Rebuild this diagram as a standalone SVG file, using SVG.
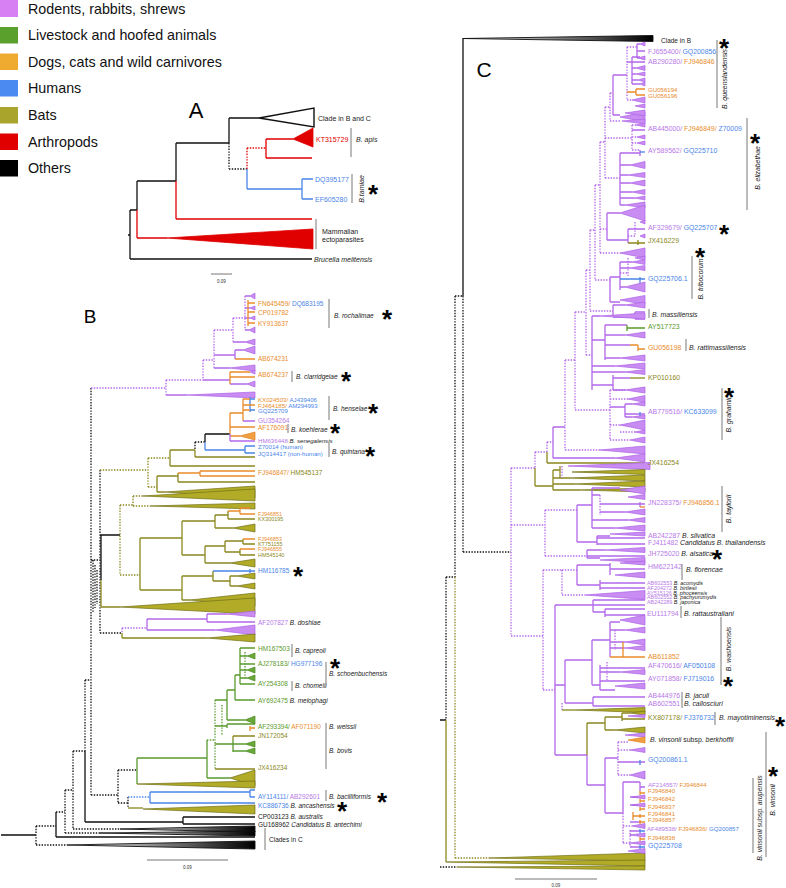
<svg xmlns="http://www.w3.org/2000/svg" width="786" height="888" viewBox="0 0 786 888">
<defs>
<linearGradient id="kg" x1="0" x2="1" y1="0" y2="0"><stop offset="0" stop-color="#fff"/><stop offset="1" stop-color="#000"/></linearGradient>
<style>
text{font-family:"Liberation Sans",Arial,sans-serif}
.lg{font-size:14.3px;fill:#111}
.ta{font-size:7px}
.tb{font-size:6.5px}
.tc{font-size:6.9px}
.tn{font-size:5.4px}
.tm{font-size:6.1px}
.i{font-style:italic}
.n{font-style:normal}
.big{text-anchor:middle;fill:#000}
.st{font-size:26px;font-weight:bold;text-anchor:middle;fill:#000}
.sc{font-size:4.5px;fill:#333;text-anchor:middle}
.cp{fill:#b779e8}.co{fill:#e98c2c}.cb{fill:#4a85e8}.cg{fill:#5a9a2e}.col{fill:#8a8822}.cr{fill:#e00000}.ck{fill:#222}
path{fill:none;stroke-width:1.3}
.p{stroke:#b368ea}.pd{stroke:#b368ea;stroke-dasharray:1.4 1.4}
.k{stroke:#111}.kd{stroke:#111;stroke-dasharray:1.4 1.4}
.ol{stroke:#8a881e}.old{stroke:#8a881e;stroke-dasharray:1.4 1.4}
.g{stroke:#5a9a2e}.gd{stroke:#5a9a2e;stroke-dasharray:1.4 1.4}
.o{stroke:#e98c2c}.b{stroke:#4a85e8}.bd{stroke:#4a85e8;stroke-dasharray:1.4 1.4}
.r{stroke:#e00000}.rd{stroke:#e00000;stroke-dasharray:1.4 1.4}
.bar{stroke:#555;stroke-width:0.8}
.sb{stroke:#777;stroke-width:1}
.wp{fill:#c98cf3;stroke:#ad62e6;stroke-width:0.7}
.wo{fill:#b2ab28;stroke:#707014;stroke-width:0.7}
.wg{fill:#6aa83a;stroke:#4c8a22;stroke-width:0.7}
.wor{fill:#f0a040;stroke:#e08020;stroke-width:0.7}
.wk{fill:url(#kg);stroke:#111;stroke-width:0.9}
.wr{fill:#e00000;stroke:#e00000;stroke-width:0.8}
</style>
</defs>
<rect width="786" height="888" fill="#fff"/>

<g id="legend">
<rect x="0" y="0" width="18" height="17" fill="#d780f4"/>
<text class="lg" x="28" y="13.5">Rodents, rabbits, shrews</text>
<rect x="0" y="27" width="18" height="16.5" fill="#5aa02c"/>
<text class="lg" x="28" y="40">Livestock and hoofed animals</text>
<rect x="0" y="53.5" width="18" height="16.5" fill="#efaa30"/>
<text class="lg" x="28" y="66.5">Dogs, cats and wild carnivores</text>
<rect x="0" y="80" width="18" height="16.5" fill="#4b8af0"/>
<text class="lg" x="28" y="93">Humans</text>
<rect x="0" y="107" width="18" height="16.5" fill="#a8a42c"/>
<text class="lg" x="28" y="120">Bats</text>
<rect x="0" y="133.5" width="18" height="16.5" fill="#e00000"/>
<text class="lg" x="28" y="146.5">Arthropods</text>
<rect x="0" y="160" width="18" height="16.5" fill="#000"/>
<text class="lg" x="28" y="173">Others</text>
</g>

<!-- ================= PANEL A ================= -->
<g id="panelA">
<text class="big" x="196" y="118" font-size="22">A</text>
<g id="A-edges">
<path class="k" d="M130,210V259M128,235H130M130,210H137M137,181V210M137,181H176M130,259H312M176,143V181M176,143H229M229,118V143M229,118H259"/>
<path class="r" d="M137,210V238M137,238H167M176,181V219M176,219H312M266,139V158M266,139H293M266,158H312"/>
<path class="kd" d="M229,143V169M229,169H247"/>
<path class="rd" d="M247,148V169M247,148H266"/>
<path class="b" d="M247,169V189M247,189H302M302,179V199M302,179H313M302,199H313"/>
<polygon points="259,118 314,108 314,127" fill="#fff" stroke="#111" stroke-width="1.4"/>
<polygon class="wr" points="293,139 313,128 313,147"/>
<polygon class="wr" points="167,238 313,229 313,249"/>
</g>
<g id="A-clade-BC"><text class="ta ck" x="318" y="120.5">Clade in B and C</text></g>
<g id="A-apis"><text class="ta cr" x="316" y="142">KT315729</text><path class="bar" d="M351,128V157"/><text class="ta ck i" x="356" y="142">B. apis</text></g>
<g id="A-tamiae"><text class="ta cb" x="315" y="181.5">DQ395177</text><text class="ta cb" x="315" y="201.5">EF605280</text><path class="bar" d="M352,174V203"/><text class="ta ck i" transform="translate(364,189) rotate(-90)" text-anchor="middle">B.tamiae</text><text class="st" x="373" y="203">*</text></g>
<g id="A-ecto"><path class="bar" d="M316,219V249"/><text class="ta ck" x="322" y="233.5">Mammalian</text><text class="ta ck" x="322" y="242">ectoparasites</text></g>
<g id="A-brucella"><text class="ta ck i" x="314" y="262">Brucella melitensis</text></g>
<g id="A-scale"><path class="sb" d="M211,274H232"/><text class="sc" x="221.5" y="283">0.09</text></g>
</g>

<!-- ================= PANEL B ================= -->
<g id="panelB">
<text class="big" x="90" y="323" font-size="19">B</text>
<g id="B-edges">
<path class="k" d="M1,835H36M56,812V837M56,837H255M85,751V822M85,822H183M183,817V824M183,817H255M183,824H255M100,535H120M101,535V580M205,434V442M205,434H230"/>
<path class="kd" d="M36,826V845M36,845H67M36,826H56M56,812H65M65,790V833M65,833H100M65,790H73M73,751V829M73,829H120M73,751H85M85,680V751M85,680H91M91,388V795M91,560H100M91,795H118M100,470V633M100,633H122M118,770V803M118,803H128M128,797V808M93,560V612M95,565V608M97,570V604M195,442H205M195,442V450"/>
<polygon class="wk" points="120,829 255,826 255,832"/>
<polygon class="wk" points="100,833 255,831 255,836"/>
<polygon class="wk" points="67,845 255,841 255,849"/>
<path class="pd" d="M91,388H166M166,380V395M166,380H203M203,360V380M203,360H214M214,330V368M214,330H233M233,318V342M233,318H245M245,296V330"/>
<path class="p" d="M166,395H187M203,380H230M214,368H230M214,355H235M235,350V359M235,350H243M233,342H245M245,296H250M245,308H250M245,318H250M245,330H249M230,384H247"/>
<path class="o" d="M230,372V384M230,377H255M230,372H250M235,359H255M248,303H255M248,312H255M248,323H255M248,300V326"/>
<polygon class="wp" points="187,395 255,392 255,398"/>
<polygon class="wp" points="230,368 255,365 255,371"/>
<polygon class="wp" points="243,350 255,346 255,354"/>
<polygon class="wp" points="245,342 255,339 255,345"/>
<polygon class="wp" points="250,296 255,293 255,299"/>
<polygon class="wp" points="250,308 255,306 255,310"/>
<polygon class="wp" points="250,318 255,316 255,320"/>
<polygon class="wp" points="249,330 255,327 255,333"/>
<polygon class="wp" points="247,384 255,381 255,387"/>
<polygon class="wp" points="250,372 255,370 255,374"/>
<path class="b" d="M205,442V450M205,450H245M245,446V453M245,446H255M245,453H255M250,399H255M250,410H255M250,397V412"/>
<path class="o" d="M230,413V434M230,413H243M243,399V421M243,399H250M243,405H255M243,410H250M230,427H255M230,436H240"/>
<path class="p" d="M243,421H255M230,434V441M230,441H255"/>
<polygon class="wor" points="240,436 255,432 255,440"/>
<path class="ol" d="M170,450V466M170,450H195M195,450V457M195,457H255M170,466H255M157,476V492M157,476H178M178,473V482M178,482H255M157,492H165"/>
<path class="old" d="M100,470H148M148,458V487M148,458H170M148,487H157"/>
<path class="o" d="M178,473H200M200,471V476M200,471H255M200,476H255"/>
<polygon class="wo" points="165,492 255,486 255,498"/>
<path class="old" d="M120,505V575M120,505H133M133,496V506M133,496H143M133,506H150M120,575H140"/>
<polygon class="wo" points="143,496 255,489 255,501"/>
<polygon class="wo" points="150,506 255,503 255,509"/>
<path class="ol" d="M140,538V590M140,538H182M182,521V555M182,521H215M215,515V528M215,515H228M228,511V519M228,519H255M215,528H233M182,555H205M205,546V563M205,546H225M225,541V552M225,541H243M243,539V544M243,544H255M225,552H240M240,549V555M240,555H255M205,563H230M140,590H182M182,576V600M182,576H213M213,571V581M213,581H230M230,576V586M230,576H237M230,586H237M182,600H190M101,580V607M101,607H120"/>
<path class="o" d="M228,511H240M240,508V514M240,514H255M240,508H250M243,539H255M240,549H255"/>
<path class="b" d="M213,571H250M250,569V573M250,571H255"/>
<polygon class="wo" points="233,528 255,524 255,532"/>
<polygon class="wo" points="230,563 255,559 255,567"/>
<polygon class="wo" points="237,576 255,573 255,579"/>
<polygon class="wo" points="237,586 255,583 255,589"/>
<polygon class="wo" points="190,600 255,593 255,606"/>
<polygon class="wo" points="120,607 255,598 255,614"/>
<path class="pd" d="M122,628V633M122,628H147"/>
<path class="ol" d="M122,633V638M122,638H207"/>
<path class="p" d="M147,619V630M147,619H207M207,614V622M207,614H227M207,622H255M147,630H215"/>
<polygon class="wp" points="227,614 255,611 255,617"/>
<polygon class="wp" points="215,630 255,625 255,635"/>
<polygon class="wo" points="207,638 255,634 255,642"/>
<path class="kd" d="M118,770H137"/>
<path class="g" d="M137,758V784M137,758H207M207,740V778M207,778H230M215,700H227M227,690V720M227,720H245M227,690H235M235,675V700M235,700H255M235,675H240M240,648V684M240,648H255M240,656H247M240,664H255M240,670H247M240,678H247M240,684H255M215,726H227M227,724V728M227,724H255M215,744H233M233,740V752M233,744H245M233,751H245"/>
<path class="gd" d="M207,740H215M215,700V769M245,652V680M222,705V735"/>
<path class="o" d="M250,726V731M250,728H255"/>
<path class="ol" d="M215,769H255M233,736H255M233,736V740"/>
<polygon class="wg" points="247,656 255,653 255,659"/>
<polygon class="wg" points="247,670 255,667 255,673"/>
<polygon class="wg" points="247,678 255,675 255,681"/>
<polygon class="wg" points="245,720 255,716 255,724"/>
<polygon class="wg" points="245,744 255,741 255,747"/>
<polygon class="wg" points="245,751 255,748 255,754"/>
<polygon class="wo" points="230,778 255,770 255,786"/>
<polygon class="wo" points="137,784 255,781 255,788"/>
<path class="bd" d="M128,797H150"/>
<path class="b" d="M150,792V803M150,792H250M250,790V797M250,790H255M250,797H255M150,803H255"/>
<path class="ol" d="M128,808H143"/>
<polygon class="wo" points="143,809 255,805 255,814"/>
</g>
<g id="B-rochalimae"><text class="tb" x="258" y="306"><tspan class="co">FN645459/ </tspan><tspan class="cb">DQ683195</tspan></text><text class="tb co" x="258" y="314.5">CP019782</text><text class="tb co" x="258" y="325.5">KY913637</text><path class="bar" d="M329,299V328"/><text class="tb ck i" x="334" y="318">B. rochalimae</text><text class="st" x="387" y="327.5">*</text></g>
<g id="B-AB674231"><text class="tb co" x="258" y="361">AB674231</text></g>
<g id="B-clarridgeiae"><text class="tb co" x="258" y="377">AB674237</text><path class="bar" d="M292,371V382"/><text class="tb ck i" x="296" y="379">B. clarridgeiae</text><text class="st" x="346" y="389.5">*</text></g>
<g id="B-henselae"><text class="tm" x="258" y="401.5"><tspan class="co">KX024503/ </tspan><tspan class="cb">AJ439406</tspan></text><text class="tm" x="258" y="407.5"><tspan class="co">FJ464185/ </tspan><tspan class="cb">AM294993</tspan></text><text class="tm cb" x="258" y="413">GQ225709</text><text class="tb cp" x="258" y="423">GU354264</text><path class="bar" d="M329,396V420"/><text class="tb ck i" x="333" y="411">B. henselae</text><text class="st" x="373" y="421.5">*</text></g>
<g id="B-koehlerae"><text class="tb co" x="258" y="429.5">AF176091</text><path class="bar" d="M288,424V433"/><text class="tb ck i" x="291" y="431.5">B. koehlerae</text><text class="st" x="335" y="441.5">*</text></g>
<g id="B-senegalensis"><text class="tm" x="258" y="442.5"><tspan class="cp">HM636448 </tspan><tspan class="ck i">B. senegalensis</tspan></text></g>
<g id="B-quintana"><text class="tm cb" x="258" y="448.5">Z70014 (human)</text><text class="tm cb" x="258" y="455.5">JQ314417 (non-human)</text><path class="bar" d="M329,443V457"/><text class="tb ck i" x="332" y="453.5">B. quintana</text><text class="st" x="370" y="464.5">*</text></g>
<g id="B-FJ946847"><text class="tb" x="258" y="475"><tspan class="co">FJ946847/ </tspan><tspan class="col">HM545137</tspan></text></g>
<g id="B-bats1"><text class="tn co" x="258" y="515.5">FJ946851</text><text class="tn col" x="258" y="520.5">KX300195</text><text class="tn co" x="258" y="541">FJ946853</text><text class="tn col" x="258" y="546">KT751155</text><text class="tn co" x="258" y="551">FJ946855</text><text class="tn col" x="258" y="556.5">HM545140</text></g>
<g id="B-HM116785"><text class="tb cb" x="258" y="573">HM116785</text><text class="st" x="298" y="584.5">*</text></g>
<g id="B-doshiae"><text class="tb" x="258" y="624.5"><tspan class="cp">AF207827 </tspan><tspan class="ck i">B. doshiae</tspan></text></g>
<g id="B-capreoli"><text class="tb cg" x="258" y="650.5">HM167503</text><path class="bar" d="M292,644V657"/><text class="tb ck i" x="295" y="652.5">B. capreoli</text></g>
<g id="B-schoenbuchensis"><text class="tb" x="258" y="666"><tspan class="cg">AJ278183/ </tspan><tspan class="cb">HG977196</tspan></text><path class="bar" d="M326,662V683"/><text class="tb ck i" x="329" y="676">B. schoenbuchensis</text><text class="st" x="335" y="676.5">*</text></g>
<g id="B-chomelii"><text class="tb cg" x="258" y="686">AY254308</text><path class="bar" d="M292,681V691"/><text class="tb ck i" x="295" y="688">B. chomelii</text></g>
<g id="B-melophagi"><text class="tb" x="258" y="703"><tspan class="cg">AY692475 </tspan><tspan class="ck i">B. melophagi</tspan></text></g>
<g id="B-weissii-bovis"><text class="tb" x="258" y="728.5"><tspan class="cg">AF293394/ </tspan><tspan class="co">AF071190</tspan></text><text class="tb col" x="258" y="738">JN172054</text><text class="tb col" x="258" y="769.5">JX416234</text><path class="bar" d="M326,723V769"/><text class="tb ck i" x="329" y="728.5">B. weissii</text><text class="tb ck i" x="329" y="753">B. bovis</text></g>
<g id="B-bacilliformis"><text class="tb" x="258" y="798.5"><tspan class="cb">AY114111/ </tspan><tspan class="cp">AB292601</tspan></text><path class="bar" d="M326,790V801"/><text class="tb ck i" x="329" y="798.5">B. bacilliformis</text><text class="st" x="382" y="810.5">*</text></g>
<g id="B-ancashensis"><text class="tb" x="258" y="807.5"><tspan class="cb">KC886736 </tspan><tspan class="ck i">B. ancashensis</tspan></text><text class="st" x="342" y="819.5">*</text></g>
<g id="B-australis"><text class="tb ck" x="258" y="819">CP003123 <tspan class="i">B. australis</tspan></text></g>
<g id="B-antechimi"><text class="tb ck" x="258" y="826.5">GU168962 <tspan class="i">Candidatus B. antechimi</tspan></text></g>
<g id="B-cladesC"><path class="bar" d="M265,828V850"/><text class="tb ck" x="269" y="841.5">Clades in C</text></g>
<g id="B-scale"><path class="sb" d="M147,860H228"/><text class="sc" x="187.5" y="868.5">0.09</text></g>
</g>

<!-- ================= PANEL C ================= -->
<g id="panelC">
<text class="big" x="484" y="77" font-size="21">C</text>
<g id="C-edges">
<polygon class="wk" points="463,38.5 653,35.5 653,41.5"/>
<path class="k" d="M463,38V296M440,720H446"/>
<path class="kd" d="M463,296V552M463,552H511M455,296H463M455,296V577M446,577H455M446,577V720M440,867H457"/>
<path class="old" d="M455,577V858M455,858H490"/>
<path class="ol" d="M446,720V862"/>
<polygon class="wo" points="490,858 645,853 645,861"/>
<polygon class="wo" points="446,862 645,860 645,866"/>
<polygon class="wo" points="457,867 645,866 645,870"/>
<path class="pd" d="M511,468V636M511,468H535M535,452V468M535,452H547M547,442V452M547,442H553M511,636H543M543,570V690M543,570H562M562,570V595M562,595H585M543,690H555"/>
<path class="ol" d="M535,468V486M535,486H553M547,452V463M547,463H645M553,470V490M553,470H560M560,466V478M553,478H570M553,484H575M553,490H580"/>
<path class="pd" d="M610,93V121M605,107V178M605,107H610M600,142V253M600,142H605M595,185V280M595,185H600M590,230V311M590,230H595M586,270V355M586,270H590M575,312V410M575,312H586M565,360V450M565,360H575M565,450H600M575,410H610M600,253H620M610,93H613M610,121H620M605,178H620M600,229H607M595,280H610M590,311H613M586,355H592M562,466V478"/>
<path class="p" d="M553,427V458M553,427H565M553,458H615"/>
<polygon class="wp" points="600,450 645,446 645,454"/>
<polygon class="wp" points="615,458 645,454 645,462"/>
<polygon class="wp" points="620,253 645,248 645,258"/>
<path class="p" d="M613,75V115M613,75H627M627,62H632M632,57V84M632,57H640M632,62H645M632,68H636M632,74H636M632,80H638M632,84H640M613,115H620M637,44V58M637,51H645M637,44H640M637,58H638"/>
<path class="pd" d="M627,47V100M627,47H637M627,100H632"/>
<path class="o" d="M627,92H636M636,89V95M636,89H645M636,95H645"/>
<polygon class="wp" points="640,44 645,42 645,46"/>
<polygon class="wp" points="638,58 645,56 645,60"/>
<polygon class="wp" points="636,68 645,65.5 645,70.5"/>
<polygon class="wp" points="636,74 645,72 645,76"/>
<polygon class="wp" points="638,80 645,78 645,82"/>
<polygon class="wp" points="640,84 645,82 645,86"/>
<polygon class="wp" points="632,100 645,97 645,103"/>
<polygon class="wp" points="635,106 645,104 645,108"/>
<polygon class="wp" points="620,117 645,112 645,122"/>
<polygon class="wp" points="625,113 645,110 645,116"/>
<polygon class="wp" points="622,121 645,119 645,124"/>
<path class="p" d="M620,153V205M620,153H640M640,150V156M620,165H630M620,175H628M620,183H630M620,192H632M620,198H635M620,205H625M632,130H645"/>
<path class="b" d="M640,152H645"/>
<path class="pd" d="M605,138H632M632,125V150M632,125H636M632,137H637M632,143H637M632,150H640"/>
<polygon class="wp" points="636,125 645,123 645,127"/>
<polygon class="wp" points="637,137 645,135 645,139"/>
<polygon class="wp" points="637,143 645,141 645,145"/>
<polygon class="wp" points="630,165 645,161.5 645,168.5"/>
<polygon class="wp" points="628,175 645,172.5 645,177.5"/>
<polygon class="wp" points="630,183 645,180 645,186"/>
<polygon class="wp" points="632,192 645,189.5 645,194.5"/>
<polygon class="wp" points="635,198 645,196 645,200"/>
<polygon class="wp" points="625,205 645,202 645,208"/>
<path class="p" d="M607,213V240M607,213H620M607,240H628M628,229V243M628,229H645"/>
<path class="pd" d="M635,222V236M628,236H635"/>
<path class="ol" d="M638,240V245M638,243H645M628,243H638"/>
<polygon class="wp" points="620,213 645,205 645,221"/>
<polygon class="wp" points="640,222 645,220 645,224"/>
<polygon class="wp" points="640,236 645,234 645,238"/>
<path class="p" d="M610,277V302M610,277H620M620,262V290M620,262H632M620,268H630M620,287H625M610,302H620"/>
<path class="pd" d="M620,273H628M628,258V276"/>
<path class="b" d="M620,279H640M640,277V283M640,279H645"/>
<polygon class="wp" points="632,262 645,259.5 645,264.5"/>
<polygon class="wp" points="630,268 645,265.5 645,270.5"/>
<polygon class="wp" points="625,287 645,282 645,292"/>
<polygon class="wp" points="620,300 645,295.5 645,304.5"/>
<polygon class="wp" points="635,258 645,256 645,260"/>
<path class="p" d="M613,305V317M613,305H625M613,317H635M635,312V319M635,312H645M635,319H645"/>
<polygon class="wp" points="625,305 645,302 645,308"/>
<path class="p" d="M592,316V390M592,316H600M592,340H605M605,325V360M605,325H627M605,335H625M605,345H630M605,358H620M592,366H615M592,372H625M592,385H613M613,375V390M613,378H630M613,390H625"/>
<path class="g" d="M627,325V331M627,328H645"/>
<path class="o" d="M630,345H638M638,345V351M638,349H645"/>
<path class="ol" d="M630,378H645"/>
<polygon class="wp" points="600,316 645,313 645,319"/>
<polygon class="wp" points="625,335 645,332 645,338"/>
<polygon class="wp" points="620,358 645,355 645,361"/>
<polygon class="wp" points="615,366 645,363 645,369"/>
<polygon class="wp" points="625,372 645,369.5 645,374.5"/>
<polygon class="wp" points="625,390 645,387 645,393"/>
<path class="pd" d="M610,390V440M610,390H625M610,399H628M610,425H620M610,440H630M620,432H635"/>
<path class="p" d="M610,407H625M625,404V417M625,414H645M625,404H632M625,417H632"/>
<path class="b" d="M640,412V416"/>
<polygon class="wp" points="628,399 645,395.5 645,402.5"/>
<polygon class="wp" points="632,404 645,402 645,406"/>
<polygon class="wp" points="632,417 645,415 645,419"/>
<polygon class="wp" points="620,425 645,420 645,430"/>
<polygon class="wp" points="635,432 645,430 645,434"/>
<polygon class="wp" points="630,440 645,437 645,443"/>
<polygon class="wp" points="568,466 650,462.5 650,469.5"/>
<polygon class="wo" points="572,472 645,469.5 645,474.5"/>
<polygon class="wo" points="570,478 645,475 645,481"/>
<polygon class="wo" points="575,484 645,481 645,487"/>
<polygon class="wo" points="580,490 645,488 645,492"/>
<path class="pd" d="M511,525H545M545,510V556M545,510H577M545,556H587M600,495V515"/>
<path class="p" d="M577,505V542M577,505H592M592,488V528M592,488H620M592,495H600M592,520H628M592,528H615M577,542H597M597,536V545M597,536H610M597,538H645M597,544H645M600,504H640M640,502V507M640,504H645M600,512H625M587,550V558M587,550H605M587,556H645M587,558H600"/>
<path class="o" d="M640,507H645"/>
<polygon class="wp" points="620,490 645,486 645,494"/>
<polygon class="wp" points="628,497 645,494.5 645,499.5"/>
<polygon class="wp" points="625,512 645,509 645,515"/>
<polygon class="wp" points="628,520 645,517.5 645,522.5"/>
<polygon class="wp" points="615,528 645,525 645,531"/>
<polygon class="wp" points="610,534 645,532 645,536"/>
<polygon class="wp" points="605,550 645,547.5 645,552.5"/>
<polygon class="wp" points="600,560 645,557.5 645,562.5"/>
<path class="pd" d="M562,570H577"/>
<path class="p" d="M577,565V585M577,565H610M610,563V575M610,569H645M577,585H600M600,580V590M600,583H645M600,588H645M555,605V755M555,605H593M593,600V612M593,600H645M593,605H645M593,612H605M605,609V617M605,609H645M605,615H645"/>
<polygon class="wp" points="620,563 645,561 645,565"/>
<polygon class="wp" points="615,575 645,572 645,578"/>
<polygon class="wp" points="585,595 645,590.5 645,599.5"/>
<path class="p" d="M555,685H565M565,660V703M565,660H592M592,640V685M592,640H610M610,622V657M610,622H620M610,630H625M610,642H625M610,648H625M592,685H600M600,665V690M600,668H645M600,672H620M600,681H645M600,690H615M565,703H593M593,697V706M593,697H645M593,706H645"/>
<path class="pd" d="M615,630V650M607,662V680M562,703V710"/>
<path class="o" d="M610,657H645M623,642V657"/>
<path class="ol" d="M562,710H575"/>
<polygon class="wp" points="620,620 645,615 645,625"/>
<polygon class="wp" points="625,630 645,627 645,633"/>
<polygon class="wp" points="625,642 645,639 645,645"/>
<polygon class="wp" points="625,648 645,645.5 645,650.5"/>
<polygon class="wp" points="620,672 645,669.5 645,674.5"/>
<polygon class="wp" points="615,686 645,683 645,689"/>
<polygon class="wo" points="575,710 645,707.5 645,712.5"/>
<path class="p" d="M555,755H587M587,755V785M587,785H605M605,758V813M605,758H618M618,762H645M605,813H623M623,782V813M623,782H640M640,782V791M640,787H645M630,797H640M630,805H640M630,822H640M630,831H640M630,847H640"/>
<path class="ol" d="M587,723V755M587,723H605M605,717V730M605,717H622M622,713V721M622,713H630M622,719H645M605,730H615"/>
<path class="pd" d="M618,742V775M618,742H628M618,750H630M618,775H630M623,813V843M623,826H632M623,843H630M630,830V847M630,835H632"/>
<path class="b" d="M640,760V765M640,845V849M640,847H645M640,829V833M640,831H645"/>
<path class="o" d="M640,791V795M640,793H645M640,799V803M640,801H645M640,807V811M640,809H645M640,814V818M640,816H645M640,820V824M640,822H645M640,837V841M640,839H645M633,812V820M633,816H640"/>
<polygon class="wo" points="630,713 645,711 645,715"/>
<polygon class="wo" points="615,730 645,727 645,733"/>
<polygon class="wp" points="628,716 645,714.5 645,717.5"/>
<polygon class="wp" points="625,735 645,733 645,737"/>
<polygon class="wor" points="628,740 645,737 645,743"/>
<polygon class="wp" points="630,750 645,747.5 645,752.5"/>
<polygon class="wp" points="630,775 645,771 645,779"/>
<polygon class="wp" points="632,797 645,795 645,799"/>
<polygon class="wp" points="632,805 645,803 645,807"/>
<polygon class="wp" points="632,826 645,823.5 645,828.5"/>
<polygon class="wp" points="630,835 645,833 645,837"/>
<polygon class="wp" points="630,843 645,841 645,845"/>
<polygon class="wp" points="628,851 645,848.5 645,853.5"/>
</g>
<g id="C-cladeB"><text class="tb ck" x="661" y="42.5">Clade in B</text></g>
<g id="C-queenslandensis"><text class="tc" x="648" y="54"><tspan class="cp">FJ655400/ </tspan><tspan class="cb">GQ200856</tspan></text><text class="tc" x="648" y="64"><tspan class="cp">AB290280/ </tspan><tspan class="co">FJ946846</tspan></text><text class="tm co" x="648" y="91.5">GU056194</text><text class="tm co" x="648" y="97.5">GU056196</text><path class="bar" d="M717,40V108"/><text class="tc ck i" transform="translate(727,79) rotate(-90)" text-anchor="middle">B. queenslandensis</text><text class="st" x="724" y="56.5">*</text></g>
<g id="C-elizabethae"><text class="tc" x="648" y="130.5"><tspan class="cp">AB445000/ </tspan><tspan class="co">FJ946849/ </tspan><tspan class="cb">Z70009</tspan></text><text class="tc" x="648" y="152.5"><tspan class="cp">AY589562/ </tspan><tspan class="cb">GQ225710</tspan></text><path class="bar" d="M747,118V210"/><text class="tc ck i" transform="translate(760,168) rotate(-90)" text-anchor="middle">B. elizabethae</text><text class="st" x="755" y="151.5">*</text></g>
<g id="C-AF329679"><text class="tc" x="648" y="229.5"><tspan class="cp">AF329679/ </tspan><tspan class="cb">GQ225707</tspan></text><text class="st" x="724" y="242.5">*</text><text class="tc col" x="648" y="243">JX416229</text></g>
<g id="C-tribocorum"><text class="tc cb" x="648" y="281">GQ225706.1</text><path class="bar" d="M692,256V299"/><text class="tc ck i" transform="translate(703,279) rotate(-90)" text-anchor="middle">B. tribocorum</text><text class="st" x="700" y="265.5">*</text></g>
<g id="C-massiliensis"><path class="bar" d="M649,309V318"/><text class="tc ck i" x="652" y="317">B. massiliensis</text></g>
<g id="C-AY517723"><text class="tc cg" x="648" y="328.5">AY517723</text></g>
<g id="C-rattimassiliensis"><text class="tc co" x="648" y="349.5">GU056198</text><path class="bar" d="M686,339V351"/><text class="tc ck i" x="689" y="349.5">B. rattimassiliensis</text></g>
<g id="C-KP010160"><text class="tc col" x="648" y="379.5">KP010160</text></g>
<g id="C-grahamii"><text class="tc" x="648" y="414"><tspan class="cp">AB779516/ </tspan><tspan class="cb">KC633099</tspan></text><path class="bar" d="M722,388V440"/><text class="tc ck i" transform="translate(731,415) rotate(-90)" text-anchor="middle">B. grahamii</text><text class="st" x="729" y="405.5">*</text></g>
<g id="C-JX416254"><text class="tc col" x="648" y="465">JX416254</text></g>
<g id="C-taylorii"><text class="tc" x="648" y="504.5"><tspan class="cp">JN228375/ </tspan><tspan class="co">FJ946856.1</tspan></text><path class="bar" d="M722,486V532"/><text class="tc ck i" transform="translate(731,509) rotate(-90)" text-anchor="middle">B. taylorii</text></g>
<g id="C-silvatica"><text class="tc" x="648" y="538"><tspan class="cp">AB242287 </tspan><tspan class="ck i">B. silvatica</tspan></text><text class="tc" x="648" y="544.5"><tspan class="cp">FJ411482 </tspan><tspan class="ck i">Candidatus B. thailandensis</tspan></text></g>
<g id="C-alsatica"><text class="tc" x="648" y="556"><tspan class="cp">JH725020 </tspan><tspan class="ck i">B. alsatica</tspan></text><text class="st" x="717" y="567.5">*</text></g>
<g id="C-florencae"><text class="tc cp" x="648" y="569">HM622142</text><path class="bar" d="M682,564V580"/><text class="tc ck i" x="686" y="572">B. florencae</text></g>
<g id="C-small"><text class="tn" x="647" y="585"><tspan class="cp">AB602553 </tspan><tspan class="ck i">B. acomydis</tspan></text><text class="tn" x="647" y="589.8"><tspan class="cp">AF204272 </tspan><tspan class="ck i">B. birtlesii</tspan></text><text class="tn" x="647" y="594.6"><tspan class="cp">AY515126 </tspan><tspan class="ck i">B. phoceensis</tspan></text><text class="tn" x="647" y="599.4"><tspan class="cp">AB602552 </tspan><tspan class="ck i">B. pachyuromydis</tspan></text><text class="tn" x="647" y="604.2"><tspan class="cp">AB242289 </tspan><tspan class="ck i">B. japonica</tspan></text><text class="tc cp" x="647" y="615.5">EU111794</text><path class="bar" d="M681,606V618"/><text class="tc ck i" x="684" y="615.5">B. rattaustraliani</text></g>
<g id="C-washoensis"><text class="tc co" x="648" y="659">AB611852</text><text class="tc" x="648" y="668"><tspan class="cp">AF470616/ </tspan><tspan class="cb">AF050108</tspan></text><text class="tc" x="648" y="680.5"><tspan class="cp">AY071858/ </tspan><tspan class="cb">FJ719016</tspan></text><path class="bar" d="M721,617V685"/><text class="tc ck i" transform="translate(731,649) rotate(-90)" text-anchor="middle">B. washoensis</text><text class="st" x="728" y="694.5">*</text></g>
<g id="C-jaculi"><text class="tc cp" x="648" y="698">AB444976</text><path class="bar" d="M682,692V708"/><text class="tc ck i" x="685" y="698">B. jaculi</text><text class="tc cp" x="648" y="706">AB602551</text><text class="tc ck i" x="684" y="706">B. callosciuri</text></g>
<g id="C-mayotiminensis"><text class="tc" x="648" y="719.5"><tspan class="col">KX807178/ </tspan><tspan class="cb">FJ376732</tspan></text><path class="bar" d="M715,712V725"/><text class="tc ck i" x="719" y="719.5">B. mayotiminensis</text><text class="st" x="780" y="734.5">*</text></g>
<g id="C-berkhoffii"><text class="tc ck i" x="650" y="742">B. vinsonii <tspan class="n">subsp.</tspan> berkhoffii</text></g>
<g id="C-vinsonii"><text class="tc cb" x="648" y="762">GQ200861.1</text><text class="tm" x="648" y="787"><tspan class="cp">AF214557/ </tspan><tspan class="co">FJ946844</tspan></text><text class="tm co" x="648" y="793">FJ946840</text><text class="tm co" x="648" y="801">FJ946842</text><text class="tm co" x="648" y="809">FJ946837</text><text class="tm co" x="648" y="816">FJ946841</text><text class="tm co" x="648" y="822">FJ946857</text><text class="tm" x="647" y="831"><tspan class="cp">AF489538/ </tspan><tspan class="co">FJ946836/ </tspan><tspan class="cb">GQ200857</tspan></text><text class="tm co" x="648" y="839.5">FJ946838</text><text class="tc cb" x="648" y="847.5">GQ225708</text><path class="bar" d="M753,778V853"/><text class="tc ck i" transform="translate(762,818) rotate(-90)" text-anchor="middle">B. vinsonii <tspan class="n">subsp.</tspan> arupensis</text><path class="bar" d="M766,732V857"/><text class="tc ck i" transform="translate(775,800) rotate(-90)" text-anchor="middle">B. vinsonii</text><text class="st" x="773" y="784.5">*</text></g>
<g id="C-scale"><path class="sb" d="M515,879H597"/><text class="sc" x="556" y="887">0.09</text></g>
</g>
</svg>
